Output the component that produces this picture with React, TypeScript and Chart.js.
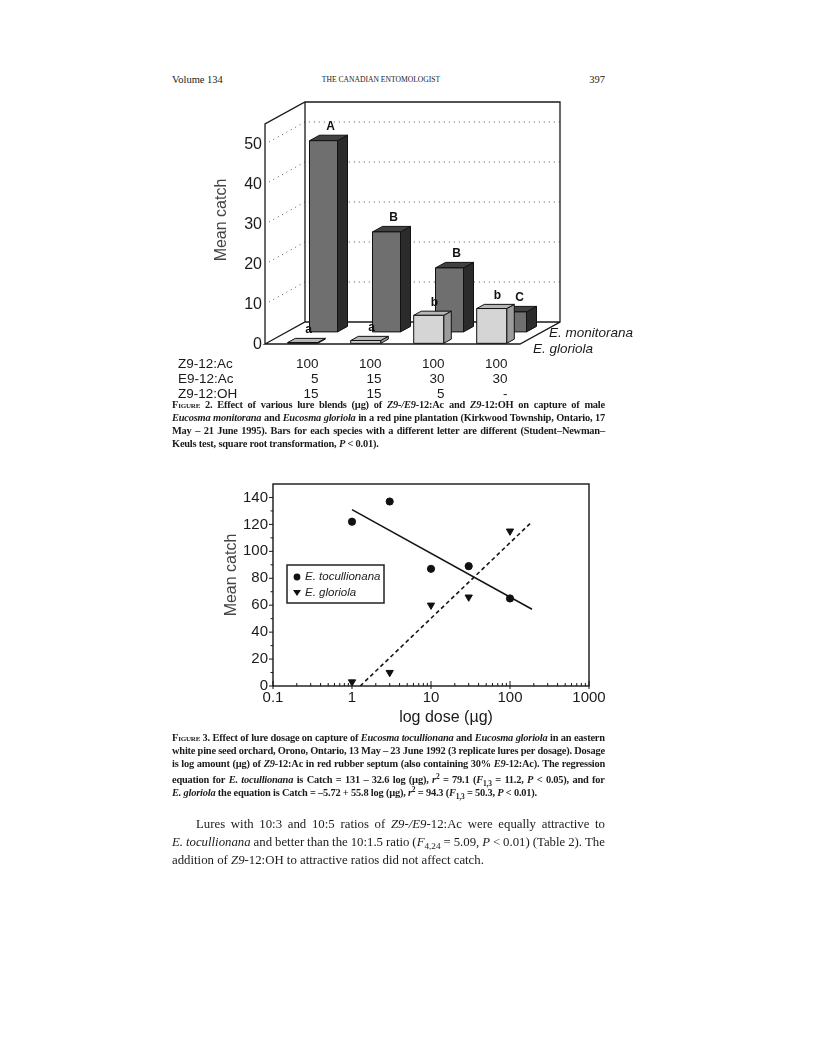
import React, { useEffect, useRef } from "react";
import { Chart, registerables } from "chart.js";

Chart.register(...registerables);

const SANS = "'Liberation Sans', Arial, sans-serif";
const SERIF = "'Liberation Serif', 'Times New Roman', serif";

// ---------- Figure 2 data ----------
const blendRowNames = ["Z9-12:Ac", "E9-12:Ac", "Z9-12:OH"];
const z9AcDose = ["100", "100", "100", "100"];
const e9AcDose = ["5", "15", "30", "30"];
const z9OhDose = ["15", "15", "5", "-"];
const monitoranaMean = [47.8, 25, 16, 5];
const gloriolaMean = [0.2, 0.7, 7, 8.7];
const monitoranaLetters = ["A", "B", "B", "C"];
const gloriolaLetters = ["a", "a", "b", "b"];
const fig2YTicks = [0, 10, 20, 30, 40, 50];
const fig2YMax = 55;
const fig2SeriesNames = ["E. monitorana", "E. gloriola"];

// ---------- Figure 3 data ----------
const doseUg = [1, 3, 10, 30, 100];
const tocullionanaMean = [122, 137, 87, 89, 65];
const gloriolaDoseMean = [3, 10, 60, 66, 115];
const tocFitDose = [1, 190];
const tocFitCatch = [131, 57];
const gloFitDose = [1.27, 190];
const gloFitCatch = [0, 122];
const doseTickLabels = [0.1, 1, 10, 100, 1000];
const catchTickValues = [0, 20, 40, 60, 80, 100, 120, 140];
const fig3SeriesNames = ["E. tocullionana", "E. gloriola"];

// ---------- text ----------
const caption2 = [
  "F%{igure} 2. Effect of various lure blends (µg) of *Z9-/E9*-12:Ac and *Z9*-12:OH on capture of male",
  "*Eucosma monitorana* and *Eucosma gloriola* in a red pine plantation (Kirkwood Township, Ontario, 17",
  "May – 21 June 1995). Bars for each species with a different letter are different (Student–Newman–",
  "Keuls test, square root transformation, *P* < 0.01).",
];
const caption3 = [
  "F%{igure} 3. Effect of lure dosage on capture of *Eucosma tocullionana* and *Eucosma gloriola* in an eastern",
  "white pine seed orchard, Orono, Ontario, 13 May – 23 June 1992 (3 replicate lures per dosage). Dosage",
  "is log amount (µg) of *Z9*-12:Ac in red rubber septum (also containing 30% *E9*-12:Ac). The regression",
  "equation for *E. tocullionana* is Catch = 131 – 32.6 log (µg), *r*^{2} = 79.1 (*F*_{1,3} = 11.2, *P* < 0.05), and for",
  "*E. gloriola* the equation is Catch = –5.72 + 55.8 log (µg), *r*^{2} = 94.3 (*F*_{1,3} = 50.3, *P* < 0.01).",
];
const bodyText = [
  "Lures with 10:3 and 10:5 ratios of *Z9-/E9*-12:Ac were equally attractive to",
  "*E. tocullionana* and better than the 10:1.5 ratio (*F*_{4,24} = 5.09, *P* < 0.01) (Table 2). The",
  "addition of *Z9*-12:OH to attractive ratios did not affect catch.",
];

type Seg = { text: string; italic: boolean; kind: "n" | "sub" | "sup" | "sc" };

function parseLine(s: string): Seg[][] {
  const words: Seg[][] = [[]];
  let italic = false;
  let i = 0;
  while (i < s.length) {
    const c = s[i];
    if (c === "*") {
      italic = !italic;
      i++;
      continue;
    }
    if ((c === "_" || c === "^" || c === "%") && s[i + 1] === "{") {
      const end = s.indexOf("}", i);
      const text = s.slice(i + 2, end);
      words[words.length - 1].push({ text, italic: false, kind: c === "_" ? "sub" : c === "^" ? "sup" : "sc" });
      i = end + 1;
      continue;
    }
    if (c === " ") {
      if (words[words.length - 1].length) words.push([]);
      i++;
      continue;
    }
    const w = words[words.length - 1];
    const last = w[w.length - 1];
    if (last && last.italic === italic && last.kind === "n") last.text += c;
    else w.push({ text: c, italic, kind: "n" });
    i++;
  }
  return words.filter((w) => w.length);
}

function Word({ segs }: { segs: Seg[] }) {
  return (
    <span style={{ whiteSpace: "nowrap" }}>
      {segs.map((sg, j) => {
        const st: any = { fontStyle: sg.italic ? "italic" : "normal" };
        if (sg.kind === "sub") {
          st.fontSize = "0.72em";
          st.verticalAlign = "-0.35em";
        }
        if (sg.kind === "sup") {
          st.fontSize = "0.72em";
          st.verticalAlign = "0.5em";
        }
        if (sg.kind === "sc") st.fontVariant = "small-caps";
        return (
          <span key={j} style={st}>
            {sg.text}
          </span>
        );
      })}
    </span>
  );
}

function TextLine(props: {
  text: string;
  x: number;
  y: number;
  w: number;
  size: number;
  bold?: boolean;
  justify?: boolean;
  spacing?: number;
}) {
  const { text, x, y, w, size, bold, justify, spacing } = props;
  const lh = Math.round(size * 1.3);
  const words = parseLine(text);
  const style: any = {
    position: "absolute",
    left: x,
    top: y - lh / 2,
    width: w,
    height: lh,
    lineHeight: lh + "px",
    fontSize: size,
    fontFamily: SERIF,
    fontWeight: bold ? 700 : 400,
    color: "#1b1b1b",
    whiteSpace: "nowrap",
    letterSpacing: spacing ? spacing + "px" : "normal",
  };
  if (justify) {
    return (
      <div style={{ ...style, display: "flex", justifyContent: "space-between", alignItems: "baseline" }}>
        {words.map((wd, i) => (
          <Word key={i} segs={wd} />
        ))}
      </div>
    );
  }
  return (
    <div style={style}>
      {words.map((wd, i) => (
        <React.Fragment key={i}>
          {i > 0 ? " " : ""}
          <Word segs={wd} />
        </React.Fragment>
      ))}
    </div>
  );
}

// ---------- Figure 2 (pseudo-3D bars) ----------
function Figure2() {
  const ref = useRef<HTMLCanvasElement>(null);
  useEffect(() => {
    const canvas = ref.current!;
    const DX = 40;
    const DY = -22;
    const rows = [
      { ds: 0, d0: 0.55, d1: 0.8, w: 28, front: "#6f6f6f", top: "#414141", side: "#2b2b2b", letters: monitoranaLetters },
      { ds: 1, d0: 0.03, d1: 0.22, w: 30, front: "#d5d5d5", top: "#b7b7b7", side: "#9c9c9c", letters: gloriolaLetters },
    ];

    const plugin = {
      id: "fig2box",
      beforeDatasetsDraw(chart: any) {
        const { ctx, chartArea, scales } = chart;
        const y = scales.y;
        const fL = chartArea.left - 5;
        const fR = chartArea.right - 2;
        const y0 = y.getPixelForValue(0);
        const yT = y.getPixelForValue(fig2YMax);
        ctx.save();
        // dotted grid on walls
        ctx.strokeStyle = "#555";
        ctx.lineWidth = 1;
        ctx.setLineDash([1, 4]);
        fig2YTicks.forEach((v) => {
          if (v === 0) return;
          const py = y.getPixelForValue(v);
          ctx.beginPath();
          ctx.moveTo(fL + 4, py - 2);
          ctx.lineTo(fL + DX, py + DY);
          ctx.lineTo(fR + DX, py + DY);
          ctx.stroke();
        });
        ctx.setLineDash([]);
        // frame
        ctx.strokeStyle = "#1a1a1a";
        ctx.lineWidth = 1.3;
        ctx.beginPath();
        ctx.moveTo(fL, y0);
        ctx.lineTo(fL, yT);
        ctx.lineTo(fL + DX, yT + DY);
        ctx.lineTo(fR + DX, yT + DY);
        ctx.lineTo(fR + DX, y0 + DY);
        ctx.lineTo(fR, y0);
        ctx.lineTo(fL, y0);
        ctx.lineTo(fL + DX, y0 + DY);
        ctx.lineTo(fR + DX, y0 + DY);
        ctx.moveTo(fL + DX, yT + DY);
        ctx.lineTo(fL + DX, y0 + DY);
        ctx.stroke();

        // y tick labels
        ctx.fillStyle = "#1a1a1a";
        ctx.font = `16px ${SANS}`;
        ctx.textAlign = "right";
        ctx.textBaseline = "middle";
        fig2YTicks.forEach((v) => {
          ctx.fillText(String(v), fL - 3, y.getPixelForValue(v) + 1);
        });
        // y title
        ctx.save();
        ctx.translate(fL - 43, y.getPixelForValue(31));
        ctx.rotate(-Math.PI / 2);
        ctx.textAlign = "center";
        ctx.fillStyle = "#444";
        ctx.font = `16px ${SANS}`;
        ctx.fillText("Mean catch", 0, 0);
        ctx.restore();

        // series labels on floor edge
        ctx.font = `italic 13.5px ${SANS}`;
        ctx.textAlign = "left";
        ctx.fillStyle = "#1a1a1a";
        ctx.fillText(fig2SeriesNames[0], fR + DX * 0.5 + 9, y0 + DY * 0.5);
        ctx.fillText(fig2SeriesNames[1], fR + 13, y0 + 5);

        // lure blend table
        const meta = chart.getDatasetMeta(0);
        const cols = [z9AcDose, e9AcDose, z9OhDose];
        ctx.font = `13.5px ${SANS}`;
        cols.forEach((col, r) => {
          const py = y0 + 20 + r * 15;
          ctx.textAlign = "left";
          ctx.fillText(blendRowNames[r], chartArea.left - 92, py);
          ctx.textAlign = "right";
          col.forEach((txt, i) => {
            const el = meta.data[i];
            ctx.fillText(txt, el.x + 17, py);
          });
        });
        ctx.restore();
      },
      afterDatasetsDraw(chart: any) {
        const { ctx } = chart;
        ctx.save();
        ctx.strokeStyle = "#111";
        ctx.lineWidth = 1;
        ctx.lineJoin = "round";
        rows.forEach((row) => {
          const meta = chart.getDatasetMeta(row.ds);
          meta.data.forEach((el: any, i: number) => {
            const { x, y, base } = el.getProps(["x", "y", "base"], true);
            const xl = x - row.w / 2;
            const xr = x + row.w / 2;
            const a0x = DX * row.d0, a0y = DY * row.d0;
            const a1x = DX * row.d1, a1y = DY * row.d1;
            const poly = (pts: number[][], fill: string) => {
              ctx.beginPath();
              ctx.moveTo(pts[0][0], pts[0][1]);
              for (let k = 1; k < pts.length; k++) ctx.lineTo(pts[k][0], pts[k][1]);
              ctx.closePath();
              ctx.fillStyle = fill;
              ctx.fill();
              ctx.stroke();
            };
            // side face
            poly(
              [
                [xr + a0x, y + a0y],
                [xr + a1x, y + a1y],
                [xr + a1x, base + a1y],
                [xr + a0x, base + a0y],
              ],
              row.side
            );
            // top face
            poly(
              [
                [xl + a0x, y + a0y],
                [xr + a0x, y + a0y],
                [xr + a1x, y + a1y],
                [xl + a1x, y + a1y],
              ],
              row.top
            );
            // front face
            poly(
              [
                [xl + a0x, y + a0y],
                [xr + a0x, y + a0y],
                [xr + a0x, base + a0y],
                [xl + a0x, base + a0y],
              ],
              row.front
            );
            // significance letter
            ctx.fillStyle = "#111";
            ctx.font = `bold 12px ${SANS}`;
            ctx.textAlign = "center";
            ctx.textBaseline = "alphabetic";
            ctx.fillText(row.letters[i], x + (a0x + a1x) / 2 + 2, y + a1y - 5);
          });
        });
        ctx.restore();
      },
    };

    const chart = new Chart(canvas, {
      type: "bar",
      data: {
        labels: z9AcDose.map((_, i) => `${z9AcDose[i]}/${e9AcDose[i]}/${z9OhDose[i]}`),
        datasets: [
          { label: fig2SeriesNames[0], data: monitoranaMean, backgroundColor: "rgba(0,0,0,0)", borderWidth: 0, grouped: false },
          { label: fig2SeriesNames[1], data: gloriolaMean, backgroundColor: "rgba(0,0,0,0)", borderWidth: 0, grouped: false },
        ],
      },
      options: {
        responsive: false,
        animation: false,
        layout: { padding: { left: 120, right: 138, top: 36, bottom: 58 } },
        plugins: { legend: { display: false }, tooltip: { enabled: false } },
        scales: {
          x: { display: false, offset: true },
          y: { display: false, min: 0, max: fig2YMax },
        },
      } as any,
      plugins: [plugin],
    });
    return () => chart.destroy();
  }, []);
  return <canvas ref={ref} width={510} height={314} style={{ position: "absolute", left: 150, top: 88, width: 510, height: 314 }} />;
}

// ---------- Figure 3 (log-dose scatter) ----------
function Figure3() {
  const ref = useRef<HTMLCanvasElement>(null);
  useEffect(() => {
    const canvas = ref.current!;
    const plugin = {
      id: "fig3frame",
      afterDatasetsDraw(chart: any) {
        const { ctx, chartArea: ca, scales } = chart;
        const x = scales.x;
        const y = scales.y;
        ctx.save();
        ctx.strokeStyle = "#161616";
        ctx.lineWidth = 1.4;
        ctx.strokeRect(ca.left, ca.top, ca.right - ca.left, ca.bottom - ca.top);
        ctx.lineWidth = 1;
        ctx.beginPath();
        doseTickLabels.forEach((dec, d) => {
          const px = x.getPixelForValue(dec);
          ctx.moveTo(px, ca.bottom + 3);
          ctx.lineTo(px, ca.bottom - 5);
          if (d < doseTickLabels.length - 1) {
            for (let k = 2; k <= 9; k++) {
              const p = x.getPixelForValue(dec * k);
              ctx.moveTo(p, ca.bottom);
              ctx.lineTo(p, ca.bottom - 3);
            }
          }
        });
        for (let v = 0; v <= 140; v += 10) {
          const py = y.getPixelForValue(v);
          const len = v % 20 === 0 ? 4 : 2.5;
          ctx.moveTo(ca.left, py);
          ctx.lineTo(ca.left - len, py);
        }
        ctx.stroke();

        // axis titles
        ctx.fillStyle = "#1a1a1a";
        ctx.font = `16px ${SANS}`;
        ctx.textAlign = "center";
        ctx.textBaseline = "middle";
        ctx.fillText("log dose (µg)", (ca.left + ca.right) / 2 + 15, ca.bottom + 32);
        ctx.save();
        ctx.translate(ca.left - 41, ca.top + 91);
        ctx.rotate(-Math.PI / 2);
        ctx.fillStyle = "#444";
        ctx.fillText("Mean catch", 0, 0);
        ctx.restore();

        // legend box
        const lx = ca.left + 14;
        const ly = ca.top + 81;
        ctx.fillStyle = "#fff";
        ctx.fillRect(lx, ly, 97, 38);
        ctx.strokeStyle = "#222";
        ctx.lineWidth = 1.5;
        ctx.strokeRect(lx, ly, 97, 38);
        ctx.fillStyle = "#111";
        ctx.beginPath();
        ctx.arc(lx + 10, ly + 12, 3.4, 0, Math.PI * 2);
        ctx.fill();
        ctx.beginPath();
        ctx.moveTo(lx + 6, ly + 25);
        ctx.lineTo(lx + 14, ly + 25);
        ctx.lineTo(lx + 10, ly + 31);
        ctx.closePath();
        ctx.fill();
        ctx.font = `italic 11.5px ${SANS}`;
        ctx.textAlign = "left";
        ctx.fillStyle = "#222";
        ctx.fillText(fig3SeriesNames[0], lx + 18, ly + 12);
        ctx.fillText(fig3SeriesNames[1], lx + 18, ly + 28);
        ctx.restore();
      },
    };

    const chart = new Chart(canvas, {
      type: "scatter",
      data: {
        datasets: [
          {
            label: fig3SeriesNames[0],
            data: doseUg.map((d, i) => ({ x: d, y: tocullionanaMean[i] })),
            pointStyle: "circle",
            pointRadius: 3.6,
            pointBackgroundColor: "#111",
            pointBorderColor: "#111",
            showLine: false,
          },
          {
            label: fig3SeriesNames[1],
            data: doseUg.map((d, i) => ({ x: d, y: gloriolaDoseMean[i] })),
            pointStyle: "triangle",
            rotation: 180,
            pointRadius: 4.2,
            pointBackgroundColor: "#111",
            pointBorderColor: "#111",
            showLine: false,
          },
          {
            label: "tocullionana fit",
            data: tocFitDose.map((d, i) => ({ x: d, y: tocFitCatch[i] })),
            showLine: true,
            borderColor: "#151515",
            borderWidth: 1.6,
            pointRadius: 0,
          },
          {
            label: "gloriola fit",
            data: gloFitDose.map((d, i) => ({ x: d, y: gloFitCatch[i] })),
            showLine: true,
            borderColor: "#151515",
            borderWidth: 1.6,
            borderDash: [4, 3],
            pointRadius: 0,
          },
        ],
      },
      options: {
        responsive: false,
        animation: false,
        layout: { padding: { left: 0, top: 9, right: 31, bottom: 6 } },
        plugins: { legend: { display: false }, tooltip: { enabled: false } },
        scales: {
          x: {
            type: "logarithmic",
            min: 0.1,
            max: 1000,
            position: "bottom",
            grid: { display: false, drawTicks: false, tickLength: 0 },
            border: { display: false },
            afterBuildTicks: (s: any) => {
              s.ticks = doseTickLabels.map((v) => ({ value: v }));
            },
            afterFit: (s: any) => {
              s.height = 48;
            },
            ticks: {
              autoSkip: false,
              maxRotation: 0,
              minRotation: 0,
              padding: 3,
              color: "#1a1a1a",
              font: { family: SANS, size: 15 },
              callback: (v: any) => String(v),
            },
          },
          y: {
            min: 0,
            max: 150,
            grid: { display: false, drawTicks: false, tickLength: 0 },
            border: { display: false },
            afterBuildTicks: (s: any) => {
              s.ticks = catchTickValues.map((v) => ({ value: v }));
            },
            afterFit: (s: any) => {
              s.width = 73;
            },
            ticks: {
              padding: 5,
              color: "#1a1a1a",
              font: { family: SANS, size: 15 },
              callback: (v: any) => String(v),
            },
          },
        },
      } as any,
      plugins: [plugin],
    });
    return () => chart.destroy();
  }, []);
  return <canvas ref={ref} width={420} height={270} style={{ position: "absolute", left: 200, top: 470, width: 420, height: 270 }} />;
}

export default function App() {
  const X = 172;
  const W = 433;
  return (
    <div style={{ position: "absolute", left: 0, top: 0, width: 816, height: 1056, background: "#fff", overflow: "hidden" }}>
      <div style={{ position: "absolute", left: X, top: 73, fontFamily: SERIF, fontSize: 10.5, color: "#1b1b1b", lineHeight: "14px" }}>
        Volume 134
      </div>
      <div style={{ position: "absolute", left: 281, width: 200, textAlign: "center", top: 74, fontFamily: SERIF, fontSize: 7.6, color: "#1b1b1b", lineHeight: "12px" }}>
        THE CANADIAN ENTOMOLOGIST
      </div>
      <div style={{ position: "absolute", left: 505, width: 100, textAlign: "right", top: 73, fontFamily: SERIF, fontSize: 10.5, color: "#1b1b1b", lineHeight: "14px" }}>
        397
      </div>

      <Figure2 />
      <Figure3 />

      {caption2.map((t, i) => (
        <TextLine key={"c2" + i} text={t} x={X} y={405 + i * 13} w={W} size={10.4} spacing={-0.2} bold justify={i < caption2.length - 1} />
      ))}
      {caption3.map((t, i) => (
        <TextLine key={"c3" + i} text={t} x={X} y={738 + i * 13} w={W} size={10.4} spacing={-0.2} bold justify={i < caption3.length - 1} />
      ))}
      {bodyText.map((t, i) => (
        <TextLine
          key={"b" + i}
          text={t}
          x={i === 0 ? X + 24 : X}
          y={824 + i * 18}
          w={i === 0 ? W - 24 : W}
          size={12.8}
          justify={i < bodyText.length - 1}
        />
      ))}
    </div>
  );
}
